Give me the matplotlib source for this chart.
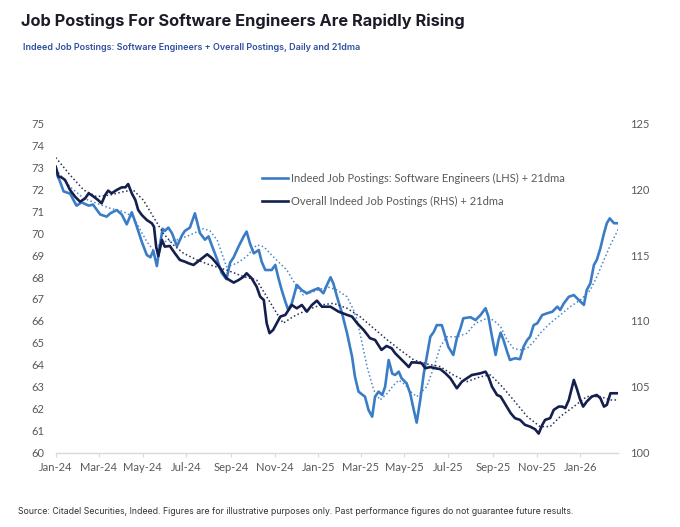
import numpy as np
import matplotlib.pyplot as plt
import matplotlib.dates as mdates

START = np.datetime64("2024-01-01")

# Indeed Job Postings: Software Engineers (LHS) - days since 2024-01-01
sw_days = [0, 6, 11, 20, 29, 36, 46, 52, 62, 71, 76, 85, 92, 99, 106, 113, 120,
           127, 132, 136, 141, 145, 149, 152, 157, 162, 169, 176, 180, 187, 194,
           201, 208, 213, 218, 225, 231, 238, 243, 248, 255, 262, 266, 271, 276,
           283, 287, 292, 301, 306, 310, 315, 320, 324, 329, 336, 343, 350, 359,
           366, 373, 378, 383, 387, 392, 399, 406, 413, 417, 422, 431, 436, 441,
           445, 450, 455, 459, 464, 469, 473, 478, 482, 489, 494, 499, 503, 508,
           513, 517, 522, 527, 531, 538, 543, 547, 554, 559, 564, 568, 578, 585,
           592, 599, 603, 608, 613, 617, 620, 624, 629, 633, 640, 647, 652, 657,
           661, 666, 671, 678, 685, 692, 699, 703, 708, 715, 722, 729, 736, 740,
           745, 750, 754, 759, 764, 768, 772, 778, 784]
sw_vals = [72.8, 72.35, 71.9, 71.8, 71.25, 71.4, 71.25, 71.3, 70.85, 70.75, 70.9,
           71.05, 70.85, 70.4, 70.95, 70.3, 69.6, 69.0, 68.9, 69.2, 68.5, 69.4,
           70.2, 70.1, 70.25, 70.0, 69.4, 69.9, 70.1, 70.25, 70.9, 70.0, 69.7,
           69.85, 69.4, 68.8, 68.2, 67.9, 68.65, 68.9, 69.4, 69.85, 70.07, 69.5,
           69.08, 69.23, 68.7, 68.32, 68.32, 68.55, 68.0, 67.4, 66.88, 66.5, 66.8,
           67.64, 67.4, 67.26, 67.4, 67.49, 67.26, 67.64, 67.99, 67.7, 67.1, 66.35,
           65.44, 64.37, 63.46, 62.78, 62.55, 61.94, 61.64, 62.55, 62.78, 62.63,
           63.0, 64.22, 63.6, 63.54, 63.69, 63.39, 63.16, 62.7, 61.94, 61.37, 62.4,
           63.62, 64.37, 65.28, 65.51, 65.81, 65.81, 65.28, 64.83, 64.45, 65.21,
           65.66, 66.12, 66.17, 66.04, 66.27, 66.58, 66.19, 65.28, 64.45, 65.13,
           65.47, 65.13, 64.6, 64.22, 64.3, 64.26, 64.83, 65.13, 65.28, 65.81,
           65.89, 66.27, 66.35, 66.42, 66.65, 66.5, 66.8, 67.1, 67.18, 66.95,
           66.73, 67.41, 67.71, 68.55, 68.78, 69.31, 69.99, 70.45, 70.67, 70.45,
           70.45]

# software engineers 21dma
sw_ma_days = [0, 20, 39, 57, 76, 94, 108, 118, 127, 136, 150, 169, 187, 206, 215,
              225, 238, 252, 266, 280, 290, 303, 322, 336, 345, 359, 378, 392,
              406, 415, 420, 424, 434, 443, 452, 462, 471, 478, 487, 494, 503,
              517, 527, 536, 545, 559, 573, 585, 601, 610, 620, 629, 638, 647,
              657, 666, 675, 689, 703, 717, 731, 745, 754, 764, 773, 784]
sw_ma_vals = [72.9, 72.11, 71.58, 71.36, 71.13, 70.98, 70.75, 70.14, 69.61, 69.23,
              69.61, 69.69, 69.91, 70.2, 70.1, 69.69, 68.47, 68.62, 68.93, 69.46,
              69.38, 68.93, 68.32, 67.56, 67.18, 67.33, 67.56, 67.41, 67.1, 66.5,
              66.04, 65.44, 63.9, 62.86, 62.4, 62.7, 63.08, 63.3, 63.1, 62.8, 62.55,
              63.0, 63.9, 64.83, 65.28, 65.28, 65.44, 65.9, 66.12, 66.04, 65.74,
              65.13, 64.75, 64.68, 64.75, 65.05, 65.44, 65.9, 66.27, 66.65, 66.95,
              67.41, 68.01, 68.78, 69.46, 70.18]

# Overall Indeed Job Postings (RHS)
all_days = [0, 4, 8, 13, 20, 27, 34, 41, 46, 53, 59, 64, 69, 73, 78, 85, 92, 97,
            101, 106, 111, 115, 120, 127, 134, 137, 140, 143, 148, 152, 159, 166,
            173, 180, 185, 192, 201, 211, 218, 224, 231, 238, 248, 255, 262, 266,
            273, 280, 285, 290, 294, 298, 303, 313, 320, 329, 336, 343, 350, 357,
            364, 371, 383, 394, 406, 413, 420, 429, 438, 445, 454, 461, 468, 473,
            480, 487, 492, 496, 503, 510, 515, 522, 529, 536, 543, 550, 559, 566,
            573, 580, 585, 592, 599, 603, 608, 615, 620, 627, 634, 640, 647, 654,
            661, 668, 673, 678, 682, 689, 694, 701, 706, 710, 715, 722, 726, 731,
            735, 740, 747, 754, 759, 764, 768, 773, 780, 784]
all_vals = [121.71, 120.95, 120.9, 120.7, 119.94, 119.43, 119.05, 119.3, 119.69,
            119.43, 119.18, 118.93, 119.56, 119.89, 119.69, 119.94, 120.14, 120.14,
            120.39, 119.69, 119.18, 118.42, 118.04, 117.66, 117.41, 117.15, 115.64,
            114.93, 116.15, 115.64, 115.69, 115.14, 114.63, 114.5, 114.38, 114.25,
            114.63, 115.06, 114.76, 114.38, 113.87, 113.24, 112.91, 113.11, 113.36,
            113.62, 113.24, 112.6, 111.84, 111.59, 109.83, 109.07, 109.32, 110.33,
            110.46, 111.21, 110.96, 111.21, 110.71, 111.21, 111.54, 111.08, 111.08,
            110.71, 110.46, 110.33, 109.83, 109.32, 108.69, 108.56, 107.8, 108.1,
            107.93, 107.55, 107.17, 106.79, 106.5, 106.86, 106.84, 106.79, 106.41,
            106.5, 106.41, 106.34, 106.03, 105.65, 104.89, 105.39, 105.65, 105.9,
            105.95, 106.03, 106.15, 105.77, 105.01, 104.38, 104.26, 103.63, 103.0,
            102.62, 102.49, 102.11, 101.98, 101.78, 101.45, 102.11, 102.49, 102.62,
            103.25, 103.5, 103.5, 103.38, 104.0, 105.52, 104.89, 104.0, 103.5,
            103.88, 104.26, 104.38, 104.13, 103.5, 103.63, 104.51, 104.51, 104.51]

# overall 21dma
all_ma_days = [0, 20, 39, 57, 76, 94, 108, 122, 136, 150, 164, 178, 197, 215, 238,
               262, 280, 294, 308, 317, 331, 350, 369, 387, 406, 424, 443, 462,
               480, 499, 517, 536, 554, 573, 592, 606, 620, 638, 657, 675, 689,
               703, 722, 740, 759, 773, 784]
all_ma_vals = [122.4, 121.08, 119.94, 119.43, 119.56, 119.81, 119.94, 119.18,
               117.91, 116.65, 115.77, 115.14, 114.63, 114.25, 113.87, 113.36,
               113.11, 111.84, 110.58, 109.83, 110.33, 110.83, 111.21, 111.34,
               110.96, 110.33, 109.45, 108.56, 107.8, 107.04, 106.74, 106.53,
               105.9, 105.39, 105.77, 105.9, 105.14, 104.0, 102.74, 101.98, 101.98,
               102.74, 103.5, 104.26, 104.26, 104.0, 104.0]

left_ticks = list(range(60, 76))
right_ticks = [100, 105, 110, 115, 120, 125]

LIGHT = "#3a7dc6"
LIGHT_MA = "#4a88c9"
NAVY = "#141f4d"
NAVY_MA = "#26305a"
GREY = "#595959"


def to_dates(days):
    return START + np.array(days, dtype="timedelta64[D]")


plt.rcParams["font.family"] = ["Lato", "DejaVu Sans"]

fig = plt.figure(figsize=(6.8, 5.27), dpi=100)
ax = fig.add_axes([0.0819, 0.141, 0.8274, 0.625])
ax2 = ax.twinx()

ax.plot(to_dates(sw_ma_days), sw_ma_vals, color=LIGHT_MA, lw=1.1, ls=(0, (1, 1.6)))
l1, = ax.plot(to_dates(sw_days), sw_vals, color=LIGHT, lw=1.9,
              label="Indeed Job Postings: Software Engineers (LHS) + 21dma")
ax2.plot(to_dates(all_ma_days), all_ma_vals, color=NAVY_MA, lw=1.1, ls=(0, (1, 1.6)))
l2, = ax2.plot(to_dates(all_days), all_vals, color=NAVY, lw=1.9,
               label="Overall Indeed Job Postings (RHS) + 21dma")

ax.set_ylim(60, 75)
ax2.set_ylim(100, 125)
ax.set_yticks(left_ticks)
ax2.set_yticks(right_ticks)
ax.set_xlim(to_dates([0])[0], to_dates([784])[0])

ax.xaxis.set_major_locator(mdates.MonthLocator(bymonth=[1, 3, 5, 7, 9, 11]))
ax.xaxis.set_major_formatter(mdates.DateFormatter("%b-%y"))

for a in (ax, ax2):
    for s in ("top", "left", "right"):
        a.spines[s].set_visible(False)
ax2.spines["bottom"].set_visible(False)
ax.spines["bottom"].set_color("#d9d9d9")
ax.spines["bottom"].set_linewidth(1.0)

ax.tick_params(axis="x", direction="out", length=3, color="#d9d9d9",
               labelcolor=GREY, labelsize=8, pad=4)
ax.tick_params(axis="y", length=0, labelcolor=GREY, labelsize=8, pad=8.4)
ax2.tick_params(axis="y", length=0, labelcolor=GREY, labelsize=8, pad=8.4)

leg = ax2.legend(handles=[l1, l2], loc="upper left", bbox_to_anchor=(0.366, 0.849),
                 frameon=False, fontsize=8.0, borderpad=0, borderaxespad=0,
                 handlelength=2.4, handletextpad=0.25, labelspacing=1.05)
for t in leg.get_texts():
    t.set_color(GREY)

fig.text(0.0304, 0.960, "Job Postings For Software Engineers Are Rapidly Rising",
         family=["Inter", "DejaVu Sans"], fontsize=11.8, fontweight="bold",
         color="#1c1c28", va="center")
fig.text(0.0334, 0.9095,
         "Indeed Job Postings: Software Engineers + Overall Postings, Daily and 21dma",
         family=["Inter", "DejaVu Sans"], fontsize=6.5, fontweight="semibold",
         color="#2f4f9f", va="center")
fig.text(0.026, 0.0285,
         "Source: Citadel Securities, Indeed. Figures are for illustrative purposes only. "
         "Past performance figures do not guarantee future results.",
         family=["Inter", "DejaVu Sans"], fontsize=6.3, color="#333333", va="center")

fig.savefig("out.png", dpi=100)
